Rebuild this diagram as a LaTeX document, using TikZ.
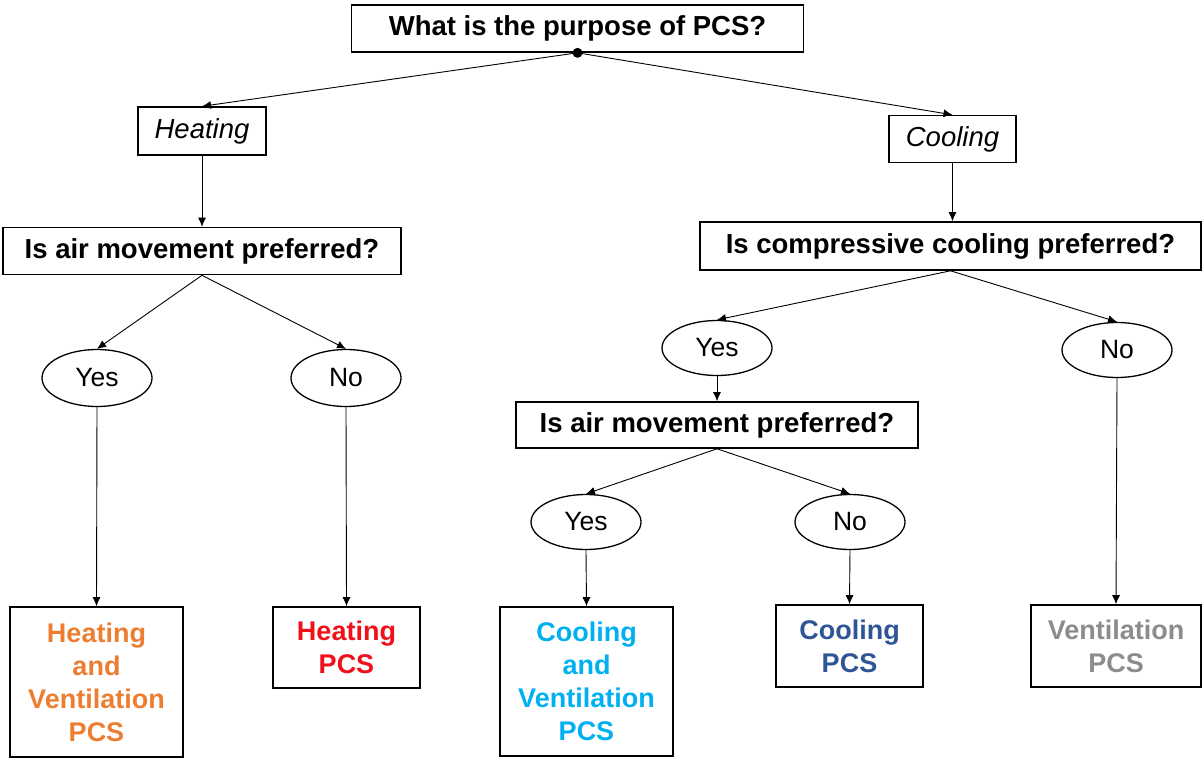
\documentclass[tikz,border=0pt]{standalone}
\usepackage{fontspec}
\setmainfont{Liberation Sans}
\usetikzlibrary{arrows.meta,shapes.geometric}
\definecolor{corange}{HTML}{ED7D31}
\definecolor{cred}{HTML}{F0101A}
\definecolor{ccyan}{HTML}{00B0F0}
\definecolor{cdblue}{HTML}{2F5597}
\definecolor{cgray}{HTML}{8C8C8C}
\tikzset{
  qbox/.style={draw, line width=1.6pt, rectangle, inner sep=0pt, font=\fontsize{27.5}{33}\selectfont\bfseries},
  ibox/.style={draw, line width=1.4pt, rectangle, inner sep=0pt, font=\fontsize{27.5}{31}\selectfont\itshape},
  yn/.style={draw, line width=1.3pt, ellipse, inner sep=0pt, minimum width=110pt, minimum height=57pt, font=\fontsize{26.5}{30}\selectfont},
  outbox/.style={draw, line width=1.6pt, rectangle, inner sep=0pt, align=center, font=\fontsize{27}{33}\selectfont\bfseries},
  conn/.style={line width=0.9pt, -{Latex[length=9pt,width=8pt]}}
}
\begin{document}
\begin{tikzpicture}[x=1pt,y=-1pt]
\useasboundingbox (0,0) rectangle (1203,758);
% questions
\node[qbox, minimum width=452pt, minimum height=47pt] (q0) at (577.5,28.5) {What is the purpose of PCS?};
\node[ibox, minimum width=128pt, minimum height=48pt] (heat) at (202,131) {Heating};
\node[ibox, minimum width=127pt, minimum height=47pt] (cool) at (952.5,139) {Cooling};
\node[qbox, minimum width=398pt, minimum height=47pt] (q1) at (202,251) {Is air movement preferred?};
\node[qbox, minimum width=501pt, minimum height=48pt] (q2) at (950.5,246) {Is compressive cooling preferred?};
\node[qbox, minimum width=402pt, minimum height=46pt] (q3) at (717,425) {Is air movement preferred?};
% yes/no
\node[yn] (y1) at (97,378) {Yes};
\node[yn] (n1) at (346,378) {No};
\node[yn, minimum height=55pt] (y2) at (717,348) {Yes};
\node[yn, minimum height=55pt] (n2) at (1117,350) {No};
\node[yn, minimum height=55pt] (y3) at (586,522) {Yes};
\node[yn, minimum height=55pt] (n3) at (850,522) {No};
% outcomes
\node[outbox, minimum width=173pt, minimum height=150pt, text=corange] (b1) at (96.5,682) {Heating\\and\\Ventilation\\PCS};
\node[outbox, minimum width=147pt, minimum height=81pt, text=cred] (b2) at (346.5,647.5) {Heating\\PCS};
\node[outbox, minimum width=173pt, minimum height=149pt, text=ccyan] (b3) at (586.5,681.5) {Cooling\\and\\Ventilation\\PCS};
\node[outbox, minimum width=147pt, minimum height=82pt, text=cdblue] (b4) at (849.5,646) {Cooling\\PCS};
\node[outbox, minimum width=170pt, minimum height=82pt, text=cgray] (b5) at (1116,646) {Ventilation\\PCS};
% connectors
\fill (q0.south) circle (5pt);
\draw[conn] (q0.south) -- (heat.north);
\draw[conn] (q0.south) -- (cool.north);
\draw[conn] (heat.south) -- (heat.south |- q1.north);
\draw[conn] (cool.south) -- (cool.south |- q2.north);
\draw[conn] (q1.south) -- (y1.north);
\draw[conn] (q1.south) -- (n1.north);
\draw[conn] (q2.south) -- (y2.north);
\draw[conn] (q2.south) -- (n2.north);
\draw[conn] (y2.south) -- (q3.north);
\draw[conn] (q3.south) -- (y3.north);
\draw[conn] (q3.south) -- (n3.north);
\draw[conn] (y1.south) -- (b1.north);
\draw[conn] (n1.south) -- (b2.north);
\draw[conn] (y3.south) -- (b3.north);
\draw[conn] (n3.south) -- (b4.north);
\draw[conn] (n2.south) -- (b5.north);
\end{tikzpicture}
\end{document}
